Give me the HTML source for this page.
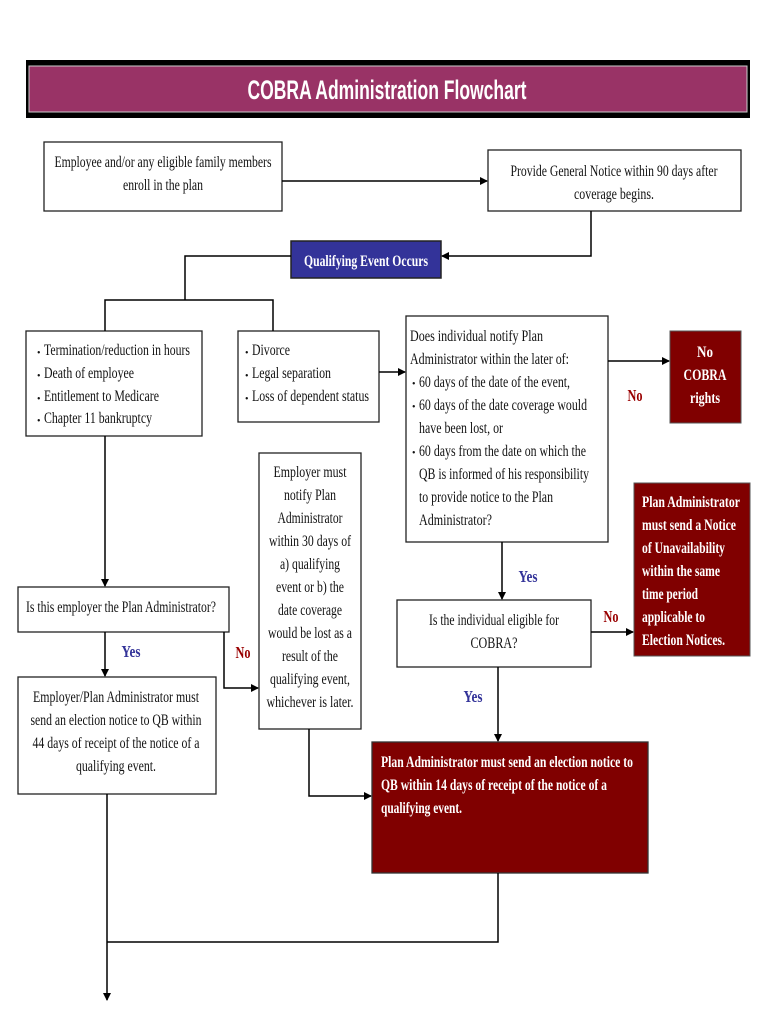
<!DOCTYPE html>
<html><head><meta charset="utf-8"><style>
html,body{margin:0;padding:0;background:#fff;}
svg{display:block;}
text{font-family:"Liberation Serif",serif;font-size:16px;fill:#111;}
.w{fill:#fff;font-weight:bold;}
.y{fill:#333399;font-weight:bold;font-size:17px;}
.n{fill:#990000;font-weight:bold;font-size:17px;}
</style></head><body>
<svg width="770" height="1024" viewBox="0 0 770 1024" xmlns="http://www.w3.org/2000/svg">
<defs>
<marker id="a" markerWidth="8" markerHeight="8" refX="7" refY="4" orient="auto" markerUnits="userSpaceOnUse">
<path d="M0,0 L8,4 L0,8 z" fill="#000"/></marker>
</defs>
<rect x="26" y="60" width="724" height="58" fill="#000"/>
<rect x="29" y="66" width="718" height="46" fill="#993366" stroke="#ccc" stroke-width="1"/>
<text x="387" y="99" text-anchor="middle" class="w" style="font-family:'Liberation Sans',sans-serif;font-size:27px" textLength="279" lengthAdjust="spacingAndGlyphs">COBRA Administration Flowchart</text>

<g fill="#fff" stroke="#222" stroke-width="1.3">
<rect x="44" y="142" width="238" height="69"/>
<rect x="488" y="150" width="253" height="61"/>
<rect x="26" y="331" width="176" height="105"/>
<rect x="238" y="331" width="141" height="91"/>
<rect x="406" y="316" width="202" height="226"/>
<rect x="259" y="453" width="102" height="276"/>
<rect x="18" y="587" width="211" height="45"/>
<rect x="397" y="600" width="194" height="67"/>
<rect x="18" y="677" width="198" height="117"/>
</g>
<rect x="291" y="241" width="150" height="37" fill="#333399" stroke="#222" stroke-width="1.5"/>
<rect x="670" y="331" width="71" height="92" fill="#800000" stroke="#555" stroke-width="1"/>
<rect x="634" y="483" width="116" height="173" fill="#800000" stroke="#555" stroke-width="1"/>
<rect x="372" y="742" width="276" height="131" fill="#800000" stroke="#333" stroke-width="1.3"/>

<g stroke="#000" stroke-width="1.5" fill="none">
<line x1="282" y1="181" x2="487" y2="181" marker-end="url(#a)"/>
<polyline points="591,211 591,256 442,256" marker-end="url(#a)"/>
<polyline points="291,256 185,256 185,300"/>
<polyline points="105,331 105,300 273,300 273,331"/>
<line x1="379" y1="372" x2="405" y2="372" marker-end="url(#a)"/>
<line x1="608" y1="361" x2="669" y2="361" marker-end="url(#a)"/>
<line x1="105" y1="436" x2="105" y2="586" marker-end="url(#a)"/>
<line x1="105" y1="632" x2="105" y2="676" marker-end="url(#a)"/>
<polyline points="224,632 224,688 258,688" marker-end="url(#a)"/>
<line x1="502" y1="542" x2="502" y2="599" marker-end="url(#a)"/>
<line x1="591" y1="632" x2="633" y2="632" marker-end="url(#a)"/>
<line x1="498" y1="667" x2="498" y2="741" marker-end="url(#a)"/>
<polyline points="309,729 309,796 371,796" marker-end="url(#a)"/>
<line x1="107" y1="794" x2="107" y2="1000" marker-end="url(#a)"/>
<polyline points="498,873 498,942 107,942"/>
</g>

<text x="163" y="167" text-anchor="middle" textLength="217" lengthAdjust="spacingAndGlyphs">Employee and/or any eligible family members</text>
<text x="163" y="190" text-anchor="middle" textLength="80" lengthAdjust="spacingAndGlyphs">enroll in the plan</text>
<text x="614" y="176" text-anchor="middle" textLength="207" lengthAdjust="spacingAndGlyphs">Provide General Notice within 90 days after</text>
<text x="614" y="199" text-anchor="middle" textLength="80" lengthAdjust="spacingAndGlyphs">coverage begins.</text>
<text x="366" y="266" text-anchor="middle" class="w" textLength="124" lengthAdjust="spacingAndGlyphs">Qualifying Event Occurs</text>

<text x="37" y="356" style="font-size:10px">•</text><text x="37" y="379" style="font-size:10px">•</text><text x="37" y="402" style="font-size:10px">•</text><text x="37" y="424" style="font-size:10px">•</text>
<text x="44" y="355" textLength="146" lengthAdjust="spacingAndGlyphs">Termination/reduction in hours</text>
<text x="44" y="378" textLength="90" lengthAdjust="spacingAndGlyphs">Death of employee</text>
<text x="44" y="401" textLength="115" lengthAdjust="spacingAndGlyphs">Entitlement to Medicare</text>
<text x="44" y="423" textLength="108" lengthAdjust="spacingAndGlyphs">Chapter 11 bankruptcy</text>

<text x="245" y="356" style="font-size:10px">•</text><text x="245" y="379" style="font-size:10px">•</text><text x="245" y="402" style="font-size:10px">•</text>
<text x="252" y="355" textLength="38" lengthAdjust="spacingAndGlyphs">Divorce</text>
<text x="252" y="378" textLength="79" lengthAdjust="spacingAndGlyphs">Legal separation</text>
<text x="252" y="401" textLength="117" lengthAdjust="spacingAndGlyphs">Loss of dependent status</text>

<text x="410" y="341" textLength="133" lengthAdjust="spacingAndGlyphs">Does individual notify Plan</text>
<text x="410" y="364" textLength="159" lengthAdjust="spacingAndGlyphs">Administrator within the later of:</text>
<text x="412" y="387" style="font-size:10px">•</text><text x="412" y="410" style="font-size:10px">•</text><text x="412" y="456" style="font-size:10px">•</text>
<text x="419" y="387" textLength="151" lengthAdjust="spacingAndGlyphs">60 days of the date of the event,</text>
<text x="419" y="410" textLength="168" lengthAdjust="spacingAndGlyphs">60 days of the date coverage would</text>
<text x="419" y="433" textLength="84" lengthAdjust="spacingAndGlyphs">have been lost, or</text>
<text x="419" y="456" textLength="167" lengthAdjust="spacingAndGlyphs">60 days from the date on which the</text>
<text x="419" y="479" textLength="170" lengthAdjust="spacingAndGlyphs">QB is informed of his responsibility</text>
<text x="419" y="502" textLength="134" lengthAdjust="spacingAndGlyphs">to provide notice to the Plan</text>
<text x="419" y="525" textLength="73" lengthAdjust="spacingAndGlyphs">Administrator?</text>

<text x="705" y="357" text-anchor="middle" class="w" textLength="16" lengthAdjust="spacingAndGlyphs">No</text>
<text x="705" y="380" text-anchor="middle" class="w" textLength="43" lengthAdjust="spacingAndGlyphs">COBRA</text>
<text x="705" y="403" text-anchor="middle" class="w" textLength="30" lengthAdjust="spacingAndGlyphs">rights</text>
<text x="635" y="401" text-anchor="middle" class="n" textLength="15" lengthAdjust="spacingAndGlyphs">No</text>

<g text-anchor="middle">
<text x="310" y="477" textLength="73" lengthAdjust="spacingAndGlyphs">Employer must</text>
<text x="310" y="500" textLength="52" lengthAdjust="spacingAndGlyphs">notify Plan</text>
<text x="310" y="523" textLength="65" lengthAdjust="spacingAndGlyphs">Administrator</text>
<text x="310" y="546" textLength="82" lengthAdjust="spacingAndGlyphs">within 30 days of</text>
<text x="310" y="569" textLength="60" lengthAdjust="spacingAndGlyphs">a) qualifying</text>
<text x="310" y="592" textLength="68" lengthAdjust="spacingAndGlyphs">event or b) the</text>
<text x="310" y="615" textLength="64" lengthAdjust="spacingAndGlyphs">date coverage</text>
<text x="310" y="638" textLength="84" lengthAdjust="spacingAndGlyphs">would be lost as a</text>
<text x="310" y="661" textLength="56" lengthAdjust="spacingAndGlyphs">result of the</text>
<text x="310" y="684" textLength="80" lengthAdjust="spacingAndGlyphs">qualifying event,</text>
<text x="310" y="707" textLength="87" lengthAdjust="spacingAndGlyphs">whichever is later.</text>
</g>

<text x="642" y="507" class="w" textLength="98" lengthAdjust="spacingAndGlyphs">Plan Administrator</text>
<text x="642" y="530" class="w" textLength="94" lengthAdjust="spacingAndGlyphs">must send a Notice</text>
<text x="642" y="553" class="w" textLength="83" lengthAdjust="spacingAndGlyphs">of Unavailability</text>
<text x="642" y="576" class="w" textLength="78" lengthAdjust="spacingAndGlyphs">within the same</text>
<text x="642" y="599" class="w" textLength="56" lengthAdjust="spacingAndGlyphs">time period</text>
<text x="642" y="622" class="w" textLength="63" lengthAdjust="spacingAndGlyphs">applicable to</text>
<text x="642" y="645" class="w" textLength="83" lengthAdjust="spacingAndGlyphs">Election Notices.</text>

<text x="121" y="612" text-anchor="middle" textLength="190" lengthAdjust="spacingAndGlyphs">Is this employer the Plan Administrator?</text>
<text x="131" y="657" text-anchor="middle" class="y" textLength="19" lengthAdjust="spacingAndGlyphs">Yes</text>
<text x="243" y="658" text-anchor="middle" class="n" textLength="15" lengthAdjust="spacingAndGlyphs">No</text>

<text x="494" y="625" text-anchor="middle" textLength="130" lengthAdjust="spacingAndGlyphs">Is the individual eligible for</text>
<text x="494" y="648" text-anchor="middle" textLength="47" lengthAdjust="spacingAndGlyphs">COBRA?</text>
<text x="528" y="582" text-anchor="middle" class="y" textLength="19" lengthAdjust="spacingAndGlyphs">Yes</text>
<text x="611" y="622" text-anchor="middle" class="n" textLength="15" lengthAdjust="spacingAndGlyphs">No</text>
<text x="473" y="702" text-anchor="middle" class="y" textLength="19" lengthAdjust="spacingAndGlyphs">Yes</text>

<text x="116" y="702" text-anchor="middle" textLength="166" lengthAdjust="spacingAndGlyphs">Employer/Plan Administrator must</text>
<text x="116" y="725" text-anchor="middle" textLength="171" lengthAdjust="spacingAndGlyphs">send an election notice to QB within</text>
<text x="116" y="748" text-anchor="middle" textLength="167" lengthAdjust="spacingAndGlyphs">44 days of receipt of the notice of a</text>
<text x="116" y="771" text-anchor="middle" textLength="80" lengthAdjust="spacingAndGlyphs">qualifying event.</text>

<text x="381" y="767" class="w" textLength="252" lengthAdjust="spacingAndGlyphs">Plan Administrator must send an election notice to</text>
<text x="381" y="790" class="w" textLength="226" lengthAdjust="spacingAndGlyphs">QB within 14 days of receipt of the notice of a</text>
<text x="381" y="813" class="w" textLength="81" lengthAdjust="spacingAndGlyphs">qualifying event.</text>
</svg>
</body></html>
